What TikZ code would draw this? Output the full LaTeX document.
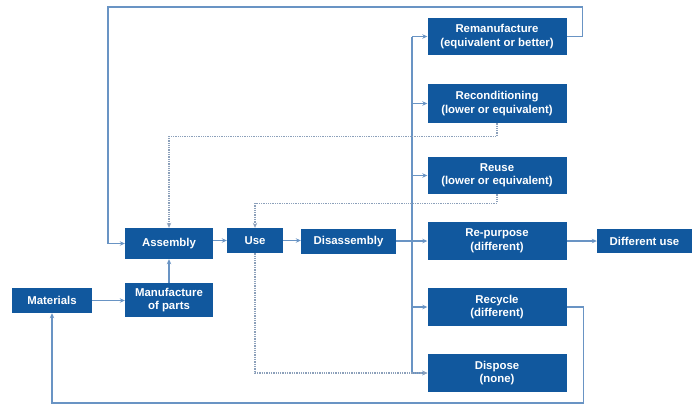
\documentclass[tikz,border=0pt]{standalone}
\usepackage{fontspec}
\setmainfont{Liberation Sans}
\usepackage{xcolor}
\usepackage{tikz}
\usetikzlibrary{calc,arrows.meta}

\definecolor{boxblue}{RGB}{17,88,158}
\definecolor{linkblue}{RGB}{105,148,196}
\definecolor{dotgray}{RGB}{140,160,186}

\tikzset{
  box/.style={fill=boxblue, text=white, align=center, inner sep=0pt,
    font=\bfseries\fontsize{11.4}{13.5}\selectfont},
  link/.style={linkblue, line width=1.3pt, -{Stealth[length=5pt,width=4.5pt]}},
  plain/.style={linkblue, line width=1.3pt},
  loop/.style={dotgray, line width=1.3pt, densely dotted, -{Stealth[length=5pt,width=4.5pt]}}
}

\begin{document}
\begin{tikzpicture}[x=1pt,y=-1pt]

\useasboundingbox (0,0) rectangle (698,407);

% Draw production chain
\node[box, minimum width=80, minimum height=25] (materials) at (52,300.5) {Materials};
\node[box, minimum width=88, minimum height=34] (manuf) at (169,300) {Manufacture\\of parts};
\node[box, minimum width=88, minimum height=31] (assembly) at (169,243.5) {Assembly};
\node[box, minimum width=56, minimum height=25] (use) at (255,240.5) {Use};
\node[box, minimum width=95, minimum height=25] (disassembly) at (348.5,241.5) {Disassembly};

% Draw end-of-life options
\node[box, minimum width=139, minimum height=37] (reman) at (497,36.5) {Remanufacture\\(equivalent or better)};
\node[box, minimum width=139, minimum height=39] (recond) at (497,103.5) {Reconditioning\\(lower or equivalent)};
\node[box, minimum width=139, minimum height=37] (reuse) at (497,175.5) {Reuse\\(lower or equivalent)};
\node[box, minimum width=139, minimum height=38] (repurpose) at (497,241) {Re-purpose\\(different)};
\node[box, minimum width=139, minimum height=38] (recycle) at (497,307) {Recycle\\(different)};
\node[box, minimum width=139, minimum height=38] (dispose) at (497,373) {Dispose\\(none)};
\node[box, minimum width=95, minimum height=24] (diffuse) at (644.5,241) {Different use};

% Draw main flow
\draw[link] (materials.east) -- (manuf.west |- materials.east);
\draw[link] (manuf.north) -- (assembly.south);
\draw[link] (assembly.east |- use.west) -- (use.west);
\draw[link] (use.east) -- (disassembly.west |- use.east);

% Draw branching
\coordinate (trunk) at (412,241);
\draw[plain] (disassembly.east |- trunk) -- (trunk);
\draw[plain] (trunk |- reman.west) -- (trunk |- dispose.west);
\foreach \n in {reman,recond,reuse,repurpose,recycle,dispose}
  \draw[link] (trunk |- \n.west) -- (\n.west);
\draw[link] (repurpose.east) -- (diffuse.west);

% Draw return loops
\coordinate (topleft) at (108,7);
\coordinate (bottom) at (52,403);
\draw[link] (reman.east) -- ++(16,0) |- (topleft) |- (assembly.west);
\draw[link] (recycle.east) -- ++(17,0) |- (bottom) -- (materials.south);

% Draw dotted loops
\draw[loop] (recond.south) -- ++(0,13) -| (assembly.north);
\draw[loop] (reuse.south) -- ++(0,9) -| (use.north);
\draw[loop] (use.south) |- (dispose.west);

\end{tikzpicture}
\end{document}
